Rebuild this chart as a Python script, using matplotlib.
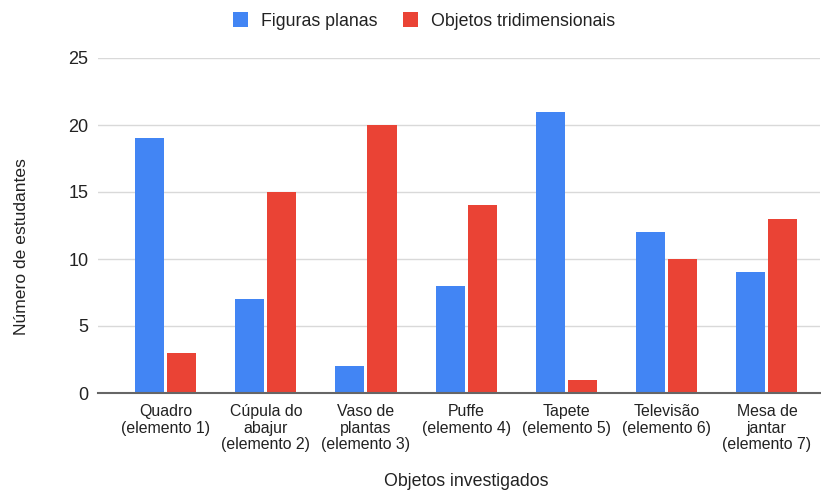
import matplotlib
matplotlib.use("Agg")
import matplotlib.pyplot as plt
from matplotlib.patches import Patch
import numpy as np

categories = [
    "Quadro\n(elemento 1)",
    "Cúpula do\nabajur\n(elemento 2)",
    "Vaso de\nplantas\n(elemento 3)",
    "Puffe\n(elemento 4)",
    "Tapete\n(elemento 5)",
    "Televisão\n(elemento 6)",
    "Mesa de\njantar\n(elemento 7)",
]
figuras_planas = [19, 7, 2, 8, 21, 12, 9]
objetos_tridimensionais = [3, 15, 20, 14, 1, 10, 13]
series_names = ["Figuras planas", "Objetos tridimensionais"]
colors = ["#4285F4", "#EA4335"]
y_ticks = [0, 5, 10, 15, 20, 25]

plt.rcParams["font.family"] = ["Liberation Sans", "DejaVu Sans"]

fig = plt.figure(figsize=(8.21, 4.92), dpi=100)
ax = fig.add_axes([98 / 821, 99 / 492, 722 / 821, 335 / 492])

x = np.arange(len(categories))
w = 0.29
ax.bar(x - 0.16, figuras_planas, width=w, color=colors[0], zorder=3)
ax.bar(x + 0.16, objetos_tridimensionais, width=w, color=colors[1], zorder=3)

ax.set_xlim(-0.674, 6.53)
ax.set_ylim(0, 25)
ax.set_yticks(y_ticks)
ax.set_xticks(x)
ax.set_xticklabels(categories, fontsize=11.4, color="#222222", linespacing=1.12)
ax.tick_params(axis="x", length=0, pad=8)
ax.tick_params(axis="y", length=0, pad=7, labelsize=13, labelcolor="#222222")

ax.grid(axis="y", color="#d9d9d9", linewidth=1, zorder=0)
for s in ["top", "right", "left"]:
    ax.spines[s].set_visible(False)
ax.spines["bottom"].set_color("#666666")
ax.spines["bottom"].set_linewidth(1.5)
ax.spines["bottom"].set_zorder(4)

fig.text(22 / 821, 1 - 247 / 492, "Número de estudantes", fontsize=12.6,
         color="#222222", ha="center", va="center", rotation=90)
fig.text(466 / 821, 1 - 481 / 492, "Objetos investigados", fontsize=12.8,
         color="#222222", ha="center", va="center")

handles = [Patch(facecolor=c, edgecolor="none") for c in colors]
fig.legend(handles, series_names, loc="center", bbox_to_anchor=(424 / 821, 1 - 21 / 492),
           ncol=2, frameon=False, fontsize=12.8, handlelength=0.85, handleheight=0.85,
           handletextpad=0.75, columnspacing=1.4, labelcolor="#222222")

fig.savefig("out.png", dpi=100)
